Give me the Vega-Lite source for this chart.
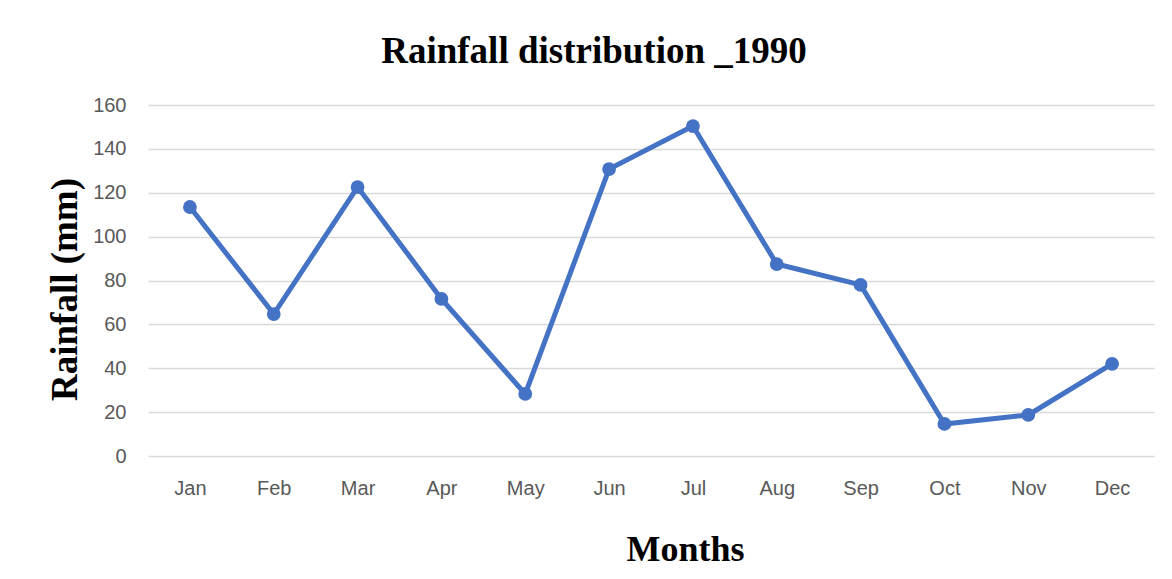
{
  "$schema": "https://vega.github.io/schema/vega-lite/v6.json",
  "width": 1006,
  "height": 351,
  "autosize": {"type": "none"},
  "padding": {"left": 148, "top": 105, "right": 18, "bottom": 123},
  "background": "white",
  "title": {
    "text": "Rainfall distribution _1990",
    "font": "Liberation Serif",
    "fontSize": 37,
    "fontWeight": "bold",
    "color": "#000000",
    "anchor": "middle",
    "dx": -57,
    "offset": 24
  },
  "data": {
    "values": [
      {"month": "Jan", "rain": 113.5},
      {"month": "Feb", "rain": 64.7},
      {"month": "Mar", "rain": 122.6},
      {"month": "Apr", "rain": 71.6},
      {"month": "May", "rain": 28.3},
      {"month": "Jun", "rain": 130.8},
      {"month": "Jul", "rain": 150.4},
      {"month": "Aug", "rain": 87.5},
      {"month": "Sep", "rain": 78.0},
      {"month": "Oct", "rain": 14.6},
      {"month": "Nov", "rain": 18.7},
      {"month": "Dec", "rain": 42.0}
    ]
  },
  "config": {
    "view": {"stroke": null},
    "axis": {
      "labelFont": "Liberation Sans",
      "labelFontSize": 20,
      "labelColor": "#595959",
      "domain": false,
      "ticks": false,
      "titleFont": "Liberation Serif",
      "titleFontWeight": "bold",
      "titleColor": "#000000"
    }
  },
  "mark": {
    "type": "line",
    "color": "#4472C4",
    "strokeWidth": 5,
    "point": {"filled": true, "size": 190, "color": "#4472C4", "opacity": 1}
  },
  "encoding": {
    "x": {
      "field": "month",
      "type": "ordinal",
      "sort": null,
      "scale": {"type": "point", "padding": 0.5},
      "axis": {
        "title": "Months",
        "titleFontSize": 36,
        "labelAngle": 0,
        "labelPadding": 22,
        "grid": false,
        "titleX": 537,
        "titleY": 104,
        "titleBaseline": "alphabetic"
      }
    },
    "y": {
      "field": "rain",
      "type": "quantitative",
      "scale": {"domain": [0, 160], "nice": false},
      "axis": {
        "title": "Rainfall (mm)",
        "titleFontSize": 37,
        "values": [0, 20, 40, 60, 80, 100, 120, 140, 160],
        "labelPadding": 22,
        "grid": true,
        "gridColor": "#d9d9d9",
        "gridWidth": 1.5,
        "titleX": -83,
        "titleY": 184,
        "titleAngle": -90,
        "titleAlign": "center",
        "titleBaseline": "middle"
      }
    }
  }
}
